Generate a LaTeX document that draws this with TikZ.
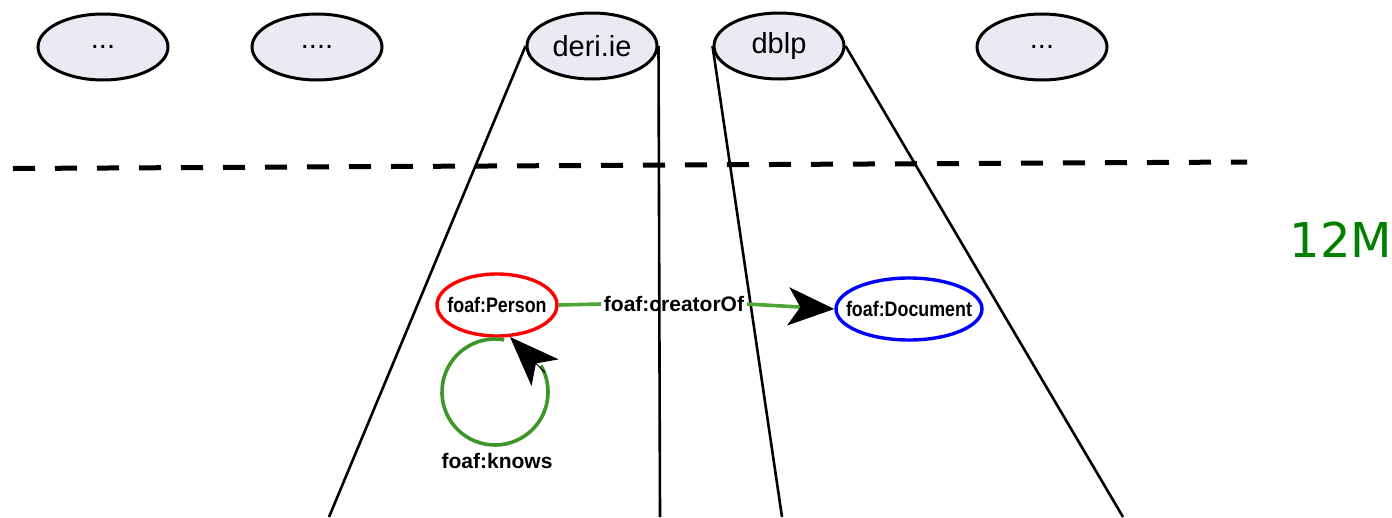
\documentclass[tikz,border=0pt]{standalone}
\usepackage{fontspec}
\setmainfont{Liberation Sans}
\newfontfamily\condfont[FakeStretch=0.85]{Liberation Sans}
\newfontfamily\dvfont{DejaVu Sans}
\usetikzlibrary{shapes.geometric,arrows.meta,calc}
\definecolor{topfill}{RGB}{234,234,242}
\definecolor{knowsgreen}{RGB}{60,150,40}
\definecolor{linkgreen}{RGB}{80,165,55}
\definecolor{bigreen}{RGB}{0,128,0}
\tikzset{
  src/.style={ellipse, draw=black, line width=3pt, fill=topfill, minimum width=130pt, minimum height=66pt, inner sep=0pt, font=\fontsize{29}{32}\selectfont},
  tube/.style={line width=2.6pt, black},
  cls/.style={ellipse, line width=3.4pt, minimum width=120pt, minimum height=62pt, inner sep=0pt},
  clstext/.style={font=\condfont\bfseries\fontsize{21}{24}\selectfont, inner sep=0pt},
  proptext/.style={font=\bfseries\fontsize{21}{24}\selectfont, inner sep=3pt},
  link/.style={line width=3.6pt, linkgreen},
  bighead/.style={-{Stealth[length=46pt, width=38pt, inset=12pt, color=black]}},
  loophead/.style={-{Stealth[length=50pt, width=38pt, inset=13pt, color=black]}},
}
\begin{document}
\begin{tikzpicture}[x=1pt, y=-1pt]
\useasboundingbox (0,0) rectangle (1392,517);
% dashed level line
\coordinate (dl) at (13,168.5);
\coordinate (dr) at (1247,162);
\draw[line width=5pt, dash pattern=on 22pt off 20pt] (dl) -- (dr);
% top source nodes
\node[src] (s1) at (103,47) {...};
\node[src] (s2) at (317,47) {....};
\node[src] (deri) at (592,46) {deri.ie};
\node[src] (dblp) at (779,46) {dblp};
\node[src] (s5) at (1042,47) {...};
% bottom coordinates of the tubes
\coordinate (b1) at (329,517);
\coordinate (b2) at (660,517);
\coordinate (b3) at (782,517);
\coordinate (b4) at (1123,517);
\draw[tube] (deri.west) -- (b1);
\draw[tube] (deri.east) -- (b2);
\draw[tube] (dblp.west) -- (b3);
\draw[tube] (dblp.east) -- (b4);
% class nodes
\node[cls, draw=red, fill=white] (person) at (497,305) {};
\node[clstext] (persont) at (person.center) {foaf:Person};
\node[cls, draw=blue, fill=white, minimum width=146pt] (doc) at (909,309) {};
\node[clstext] (doct) at (doc.center) {foaf:Document};
% creatorOf
\node[proptext] (cof) at (674,304) {foaf:creatorOf};
\draw[link] (person.east) -- (cof.west);
\draw[link, bighead] (cof.east) -- (doc.west);
% knows loop
\coordinate (kc) at (495,392);
\coordinate (kstart) at ($(kc)+(-80:53)$);
\coordinate (kend) at ($(kc)+(-30:53)$);
\coordinate (ktip) at (510,337);
\draw[knowsgreen, line width=3.6pt] (kstart) arc[start angle=-80, end angle=-390, radius=53];
\draw[black, line width=1pt, loophead] ($(kend)+(4,7)$) -- (ktip);
\node[proptext] (knows) at (497,461) {foaf:knows};
% size label
\node[font=\dvfont\fontsize{48}{52}\selectfont, text=bigreen, inner sep=0pt] (size) at (1341,240) {12M};
\end{tikzpicture}
\end{document}
